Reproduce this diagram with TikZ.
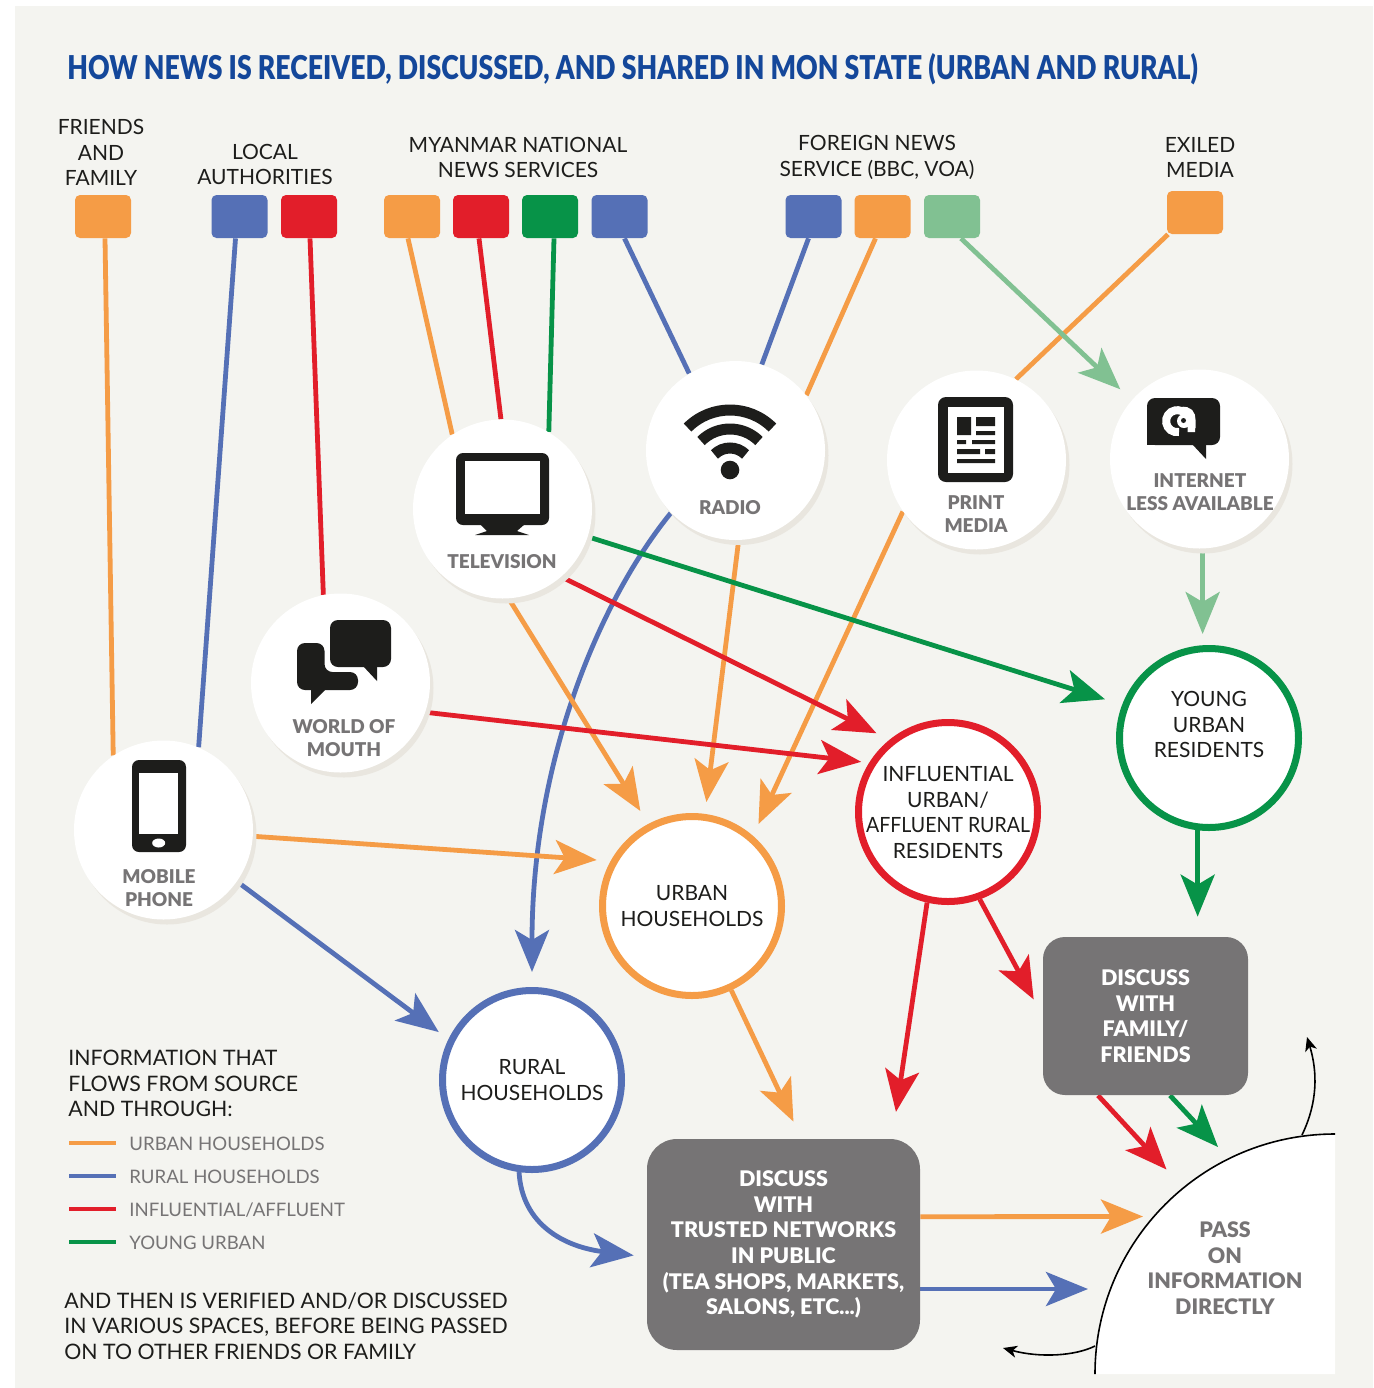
\documentclass[tikz,border=0pt]{standalone}
\usepackage{graphicx}
\usepackage{fontspec}
\setmainfont{Lato}
\newfontfamily\heavyfont{Lato Black}
\usetikzlibrary{arrows.meta,backgrounds,shadows}
\definecolor{orangec}{HTML}{F59C46}
\definecolor{bluec}{HTML}{5570B6}
\definecolor{redc}{HTML}{E21E2A}
\definecolor{greenc}{HTML}{079348}
\definecolor{mintc}{HTML}{81C192}
\definecolor{paperc}{HTML}{F4F4F0}
\definecolor{shadowc}{HTML}{E9E6DF}
\definecolor{greyc}{HTML}{767475}
\definecolor{inkc}{HTML}{1D1D1B}
\definecolor{titlec}{HTML}{14479A}
\tikzset{
  plainlabel/.style={align=center,inner sep=0pt,text=inkc,font=\fontsize{10.5}{12.8}\selectfont},
  leftlabel/.style={plainlabel,align=left,anchor=west,font=\fontsize{10.65}{12.8}\selectfont},
  keylabel/.style={anchor=west,inner sep=0pt,text=greyc,yshift=-0.5pt,font=\fontsize{9.3}{12}\selectfont},
  medialabel/.style={align=center,inner sep=0pt,text=greyc,yshift=-0.4pt,font=\heavyfont\fontsize{9.5}{11.6}\selectfont},
  srcbox/.style={rectangle,rounded corners=2.5pt,minimum width=28pt,minimum height=21.5pt,inner sep=0pt,fill=#1},
  medium/.style={circle,fill=white,minimum size=89.5pt,inner sep=0pt,
    drop shadow={shadow xshift=1.75pt,shadow yshift=-2.5pt,fill=shadowc,opacity=1}},
  ring/.style={circle,fill=white,draw=#1,line width=3.5pt,minimum size=89.5pt,inner sep=0pt,
    align=center,text=inkc,font=\fontsize{10.5}{12.8}\selectfont},
  discuss/.style={rectangle,fill=greyc,inner sep=0pt,align=center,text=white,
    font=\heavyfont\fontsize{10.75}{12.8}\selectfont},
  flow/.style={#1,line width=2.4pt},
  bighead/.style={-{Stealth[length=21pt,width=17pt,inset=5pt]}},
  pointer/.style={black,line width=0.8pt,-{Stealth[length=7pt,width=6pt,inset=2pt]}},
  iconline/.style={inkc,line width=5.5pt}
}
\begin{document}
\begin{tikzpicture}[x=0.5pt,y=-0.5pt]
  \useasboundingbox (0,0) rectangle (1373,1388);

  \node[anchor=west,inner sep=0pt,text=titlec,font=\heavyfont\fontsize{16.4}{18}\selectfont] (title) at (67,69)
    {\scalebox{0.812}[1]{HOW NEWS IS RECEIVED, DISCUSSED, AND SHARED IN MON STATE (URBAN AND RURAL)}};

  \node[plainlabel] (hfam) at (101,152.5) {FRIENDS\\AND\\FAMILY};
  \node[plainlabel] (hauth) at (265,164.5) {LOCAL\\AUTHORITIES};
  \node[plainlabel] (hnat) at (518,157.5) {MYANMAR NATIONAL\\NEWS SERVICES};
  \node[plainlabel] (hfor) at (877,157.5) {FOREIGN NEWS\\SERVICE (BBC, VOA)};
  \node[plainlabel] (hexi) at (1200,157.5) {EXILED\\MEDIA};

  \foreach \name/\xpos/\col in {sfam/103/orangec,sautb/239.5/bluec,sautr/309/redc,
      snato/412/orangec,snatr/481/redc,snatg/550/greenc,snatb/619.5/bluec,
      sforb/813.5/bluec,sforo/882.5/orangec,sform/952/mintc}
    \node[srcbox=\col] (\name) at (\xpos,216.5) {};
  \node[srcbox=orangec] (sexi) at (1195,212.5) {};

  \node[medium] (tv) at (502.5,509) {};
  \node[medium] (radio) at (735.5,450.5) {};
  \node[medium] (print) at (976.5,460) {};
  \node[medium] (inet) at (1199.5,459) {};
  \node[medium] (mouth) at (340.5,683) {};
  \node[medium] (mobile) at (163.5,830) {};

  \node[ring=greenc] (young) at (1209,738) {};
  \node[plainlabel] (youngtxt) at (1209,724.5) {YOUNG\\URBAN\\RESIDENTS};
  \node[ring=redc] (infl) at (948,812) {};
  \node[plainlabel] (infltxt) at (948,812.5) {INFLUENTIAL\\URBAN/\\\scalebox{0.93}[1]{AFFLUENT RURAL}\\RESIDENTS};
  \node[ring=orangec] (uh) at (692,906) {URBAN\\HOUSEHOLDS};
  \node[ring=bluec] (rh) at (532,1080) {RURAL\\HOUSEHOLDS};

  \node[discuss,rounded corners=11pt,minimum width=102.5pt,minimum height=79pt] (dfam) at (1145.5,1016)
    {DISCUSS\\WITH\\FAMILY/\\FRIENDS};
  \node[discuss,rounded corners=15pt,minimum width=136.5pt,minimum height=105.5pt] (dtrust) at (783.5,1244.5)
    {DISCUSS\\WITH\\TRUSTED NETWORKS\\IN PUBLIC\\(TEA SHOPS, MARKETS,\\SALONS, ETC...)};

  \fill[white] (1095,1374) arc (180:270:240) -- (1335,1374) -- cycle;
  \draw[black,line width=0.8pt] (1095,1374) arc (180:270:240);
  \node[medialabel,font=\heavyfont\fontsize{10.7}{12.8}\selectfont] (pass) at (1225,1267.5) {PASS\\ON\\INFORMATION\\DIRECTLY};
  \coordinate (arcup) at (1302,1135);
  \coordinate (arcdown) at (1095,1346);
  \coordinate (passup) at (1307,1037);
  \coordinate (passleft) at (1003,1348);
  \coordinate (tipred) at (1166.5,1169.5);
  \coordinate (tipgreen) at (1218,1147);
  \coordinate (tiporange) at (1143,1216.5);
  \coordinate (tipblue) at (1088,1289);
  \draw[pointer] (arcup) .. controls (1314,1110) and (1320,1080) .. (passup);
  \draw[pointer] (arcdown) .. controls (1075,1356) and (1040,1358) .. (passleft);

  \begin{scope}[on background layer]
    \fill[paperc] (15,6) rectangle (1373,1388);
    \draw[flow=bluec,bighead,shorten >=7.5pt] (radio.224) .. controls (600,600) and (532,760) .. (rh.north);
    \draw[flow=orangec] ([xshift=-13.5pt]sexi.south) -- (print.64);
    \draw[flow=orangec] ([xshift=1pt]sfam.south) -- (mobile.124);
    \draw[flow=bluec] ([xshift=-2pt]sautb.south) -- (mobile.67);
    \draw[flow=redc] ([xshift=0.5pt]sautr.south) -- (mouth.101);
    \draw[flow=orangec] ([xshift=-2pt]snato.south) -- (tv.124);
    \draw[flow=redc] ([xshift=-1pt]snatr.south) -- (tv.91);
    \draw[flow=greenc] ([xshift=2pt]snatg.south) -- (tv.59);
    \draw[flow=bluec] ([xshift=2.5pt]snatb.south) -- (radio.121);
    \draw[flow=bluec] ([xshift=-2.5pt]sforb.south) -- (radio.73);
    \draw[flow=orangec] ([xshift=-3.5pt]sforo.south) -- (radio.38);
    \draw[flow=mintc,bighead,shorten >=7.8pt] ([xshift=4.5pt]sform.south) -- (inet.139);
    \draw[flow=mintc,bighead,shorten >=5.5pt] (inet.-88) -- (inet.-88 |- young.north);
    \draw[flow=greenc,bighead,shorten >=10pt] (young.-97) -- (young.-97 |- dfam.north);
    \draw[flow=orangec,bighead,shorten >=7.6pt] (tv.-86.5) -- (uh.118);
    \draw[flow=orangec,bighead,shorten >=6pt] (radio.-88) -- (uh.82.3);
    \draw[flow=orangec,bighead,shorten >=6.5pt] (print.215) -- (uh.49.7);
    \draw[flow=orangec,bighead,shorten >=7pt] (mobile.-4.8) -- (uh.151);
    \draw[flow=bluec,bighead,shorten >=6pt] (mobile.-35) -- (rh.154.5);
    \draw[flow=redc,bighead,shorten >=7.25pt] (tv.-49.4) -- (infl.129.4);
    \draw[flow=redc,bighead,shorten >=4pt] (mouth.-19) -- (infl.148.5);
    \draw[flow=greenc,bighead,shorten >=9pt] (tv.-18.3) -- (young.159.5);
    \draw[flow=orangec,bighead,shorten >=9.4pt] (uh.-65) -- ([xshift=9pt]dtrust.north);
    \draw[flow=redc,bighead,shorten >=13.5pt] (infl.-103) -- ([xshift=54.25pt]dtrust.north);
    \draw[flow=redc,bighead,shorten >=9.4pt] (infl.-70.4) -- (dfam.west);
    \draw[flow=redc,bighead] ([xshift=-23.75pt]dfam.south) -- (tipred);
    \draw[flow=greenc,bighead] ([xshift=12.25pt]dfam.south) -- (tipgreen);
    \draw[flow=orangec,bighead] ([yshift=13.9pt]dtrust.east) -- (tiporange);
    \draw[flow=bluec,bighead] ([yshift=-22.25pt]dtrust.east) -- (tipblue);
    \draw[flow=bluec,bighead,shorten >=6.5pt] (rh.-98.6) .. controls (522,1225) and (565,1247) .. ([yshift=-6.25pt]dtrust.west);
  \end{scope}

  \fill[inkc,rounded corners=3.5pt] (456,453) rectangle (549,525);
  \fill[inkc] (480,524) -- (525,524) -- (517,531) -- (529,535) -- (475,535) -- (487,531) -- cycle;
  \fill[white] (465,461) rectangle (540,513.5);
  \node[medialabel] (tvtxt) at (502,561) {TELEVISION};

  \draw[iconline] (730,470) ++(225:60) arc (225:315:60);
  \draw[iconline] (730,470) ++(225:41) arc (225:315:41);
  \draw[iconline] (730,470) ++(225:22) arc (225:315:22);
  \fill[inkc] (730,470) circle (9.3);
  \node[medialabel] (radiotxt) at (730,507) {RADIO};

  \fill[inkc,rounded corners=4pt] (938,397) rectangle (1013,482);
  \fill[white] (948,407) rectangle (1004,473);
  \fill[inkc] (957,417) rectangle (971,435) (976,417) rectangle (995,426) (976,431) rectangle (995,435)
    (957,440) rectangle (966,444) (972,440) rectangle (995,444)
    (957,449) rectangle (980,454) (985,449) rectangle (995,454) (957,459) rectangle (995,463);
  \node[medialabel] (printtxt) at (976,513) {PRINT\\MEDIA};

  \fill[inkc,rounded corners=4pt] (1147,445) -- (1147,398) -- (1220,398) -- (1220,445) -- cycle;
  \fill[inkc] (1147,430) rectangle (1170,445);
  \fill[inkc] (1192,444) -- (1206,459) -- (1206,444) -- cycle;
  \draw[white,line width=4pt] (1179,432) arc (80:290:11) .. controls (1189,410) and (1191.5,414) .. (1191.5,420) -- (1191.5,428) -- (1195,428);
  \fill[white] (1184,421) circle (7);
  \fill[inkc] (1183.5,420.5) circle (2.5);
  \node[medialabel] (inettxt) at (1200,491) {INTERNET\\LESS AVAILABLE};

  \fill[inkc,rounded corners=4pt] (297,643) -- (324.5,643) -- (324.5,672) -- (358,672) -- (358,690) -- (297,690) -- cycle;
  \fill[inkc] (311,689) -- (311,704) -- (326,689) -- cycle;
  \fill[inkc,rounded corners=4pt] (330,620) rectangle (391,667);
  \fill[inkc] (363,666) -- (377,681) -- (377,666) -- cycle;
  \node[medialabel] (mouthtxt) at (344,737) {WORLD OF\\MOUTH};

  \fill[inkc,rounded corners=3.5pt] (132,760) rectangle (186,852);
  \fill[white] (139,773) rectangle (178,834);
  \fill[white] (158.7,843) ellipse (6.5 and 4.5);
  \node[medialabel] (mobiletxt) at (159,887) {MOBILE\\PHONE};

  \node[leftlabel] (legtop) at (68,1083.5) {INFORMATION THAT\\FLOWS FROM SOURCE\\AND THROUGH:};
  \foreach \ypos/\col/\txt/\name in {1143/orangec/URBAN HOUSEHOLDS/ka,1176/bluec/RURAL HOUSEHOLDS/kb,
      1209/redc/{INFLUENTIAL/AFFLUENT}/kc,1242/greenc/YOUNG URBAN/kd} {
    \coordinate (\name) at (69,\ypos);
    \node[keylabel] (\name txt) at (129,\ypos) {\txt};
    \draw[\col,line width=2.4pt] (\name) -- ++(47,0);
  }
  \node[leftlabel] (legend) at (64,1326) {AND THEN IS VERIFIED AND/OR DISCUSSED\\IN VARIOUS SPACES, BEFORE BEING PASSED\\ON TO OTHER FRIENDS OR FAMILY};
\end{tikzpicture}
\end{document}
